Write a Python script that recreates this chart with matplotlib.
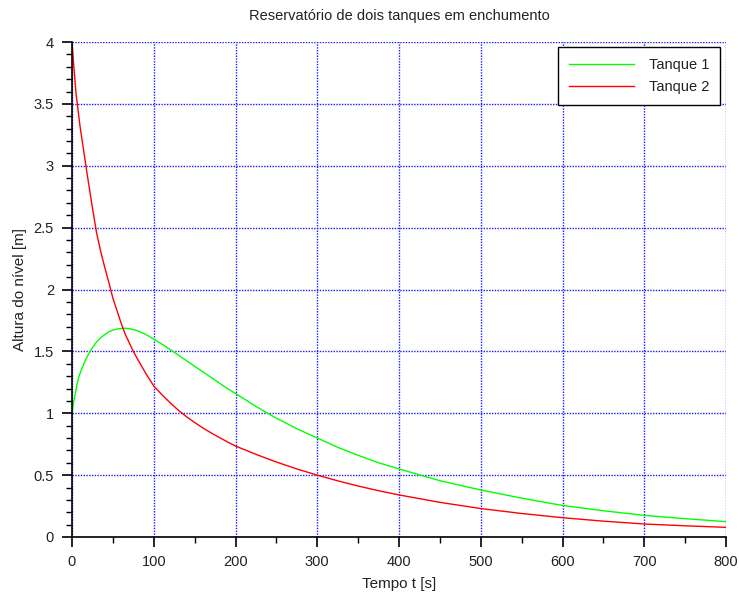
import matplotlib
matplotlib.use("Agg")
import matplotlib.pyplot as plt
from matplotlib.ticker import MultipleLocator

plt.rcParams['font.family'] = ['Liberation Sans', 'DejaVu Sans']

# Data
t1 = [0, 2, 4, 6, 8, 10, 15, 20, 25, 30, 35, 40, 45, 50, 55, 60, 65, 70, 75, 80,
      90, 100, 110, 120, 130, 140, 150, 160, 170, 180, 190, 200, 225, 250, 275,
      300, 325, 350, 375, 400, 450, 500, 550, 600, 650, 700, 750, 800]
tanque1 = [1.0, 1.09, 1.16, 1.23, 1.285, 1.325, 1.41, 1.475, 1.53, 1.575, 1.61,
           1.635, 1.658, 1.672, 1.68, 1.685, 1.687, 1.684, 1.677, 1.667, 1.638,
           1.60, 1.558, 1.515, 1.47, 1.425, 1.38, 1.335, 1.29, 1.245, 1.20, 1.16,
           1.055, 0.96, 0.875, 0.80, 0.725, 0.66, 0.60, 0.55, 0.455, 0.38, 0.314,
           0.255, 0.212, 0.175, 0.148, 0.124]

t2 = [0, 2, 5, 10, 15, 17, 20, 25, 30, 35, 40, 45, 50, 55, 60, 65, 70, 75, 80,
      90, 100, 110, 120, 130, 140, 150, 160, 170, 180, 190, 200, 225, 250, 275,
      300, 325, 350, 375, 400, 450, 500, 550, 600, 650, 700, 750, 800]
tanque2 = [4.0, 3.82, 3.58, 3.31, 3.09, 3.0, 2.87, 2.66, 2.46, 2.31, 2.18, 2.06,
           1.93, 1.83, 1.73, 1.64, 1.57, 1.50, 1.44, 1.325, 1.22, 1.15, 1.085,
           1.025, 0.972, 0.925, 0.882, 0.842, 0.805, 0.769, 0.735, 0.668, 0.606,
           0.55, 0.50, 0.454, 0.412, 0.374, 0.34, 0.28, 0.23, 0.19, 0.156, 0.128,
           0.105, 0.0905, 0.078]

series_labels = ["Tanque 1", "Tanque 2"]
title = "Reservatório de dois tanques em enchumento"
xlabel = "Tempo t [s]"
ylabel = "Altura do nível [m]"

fig = plt.figure(figsize=(7.39, 5.96), dpi=100)
ax = fig.add_axes([72/739, 1-537/596, (726-72)/739, (537-42)/596])

ax.plot(t1, tanque1, color=(0, 1, 0), lw=1.0, label=series_labels[0])
ax.plot(t2, tanque2, color=(1, 0, 0), lw=1.0, label=series_labels[1])

ax.set_xlim(0, 800)
ax.set_ylim(0, 4)
ax.xaxis.set_major_locator(MultipleLocator(100))
ax.xaxis.set_minor_locator(MultipleLocator(50))
ax.yaxis.set_major_locator(MultipleLocator(0.5))
ax.yaxis.set_minor_locator(MultipleLocator(0.1))
ax.set_yticks([0, 0.5, 1, 1.5, 2, 2.5, 3, 3.5, 4])
ax.set_yticklabels(["0", "0.5", "1", "1.5", "2", "2.5", "3", "3.5", "4"])

ax.grid(True, which='major', color=(0.1, 0.1, 1.0), linestyle=(0, (1, 1)), lw=1.0)
for s in ['top', 'right']:
    ax.spines[s].set_visible(False)
for s in ['left', 'bottom']:
    ax.spines[s].set_color('black')
    ax.spines[s].set_linewidth(1.2)

ax.tick_params(which='major', direction='out', length=7, width=1.2, labelsize=10.5,
               colors='black', labelcolor='#222222')
ax.tick_params(which='minor', direction='out', length=4, width=1.0)
ax.tick_params(axis='x', pad=6)
ax.tick_params(axis='y', pad=6)

ax.set_title(title, fontsize=10.5, pad=16, color='#222222')
ax.set_xlabel(xlabel, fontsize=11, labelpad=6, color='#222222')
ax.set_ylabel(ylabel, fontsize=11, labelpad=5, color='#222222')

leg = ax.legend(loc='upper right', bbox_to_anchor=(720/739, 1-47/596),
                bbox_transform=fig.transFigure, fontsize=10.5,
                fancybox=False, framealpha=1, edgecolor='black',
                handlelength=4.45, handletextpad=1.0, borderpad=0.75,
                labelspacing=0.55, borderaxespad=0)
leg.get_frame().set_linewidth(1.0)
for txt in leg.get_texts():
    txt.set_color('#222222')

fig.savefig("out.png", dpi=100)
